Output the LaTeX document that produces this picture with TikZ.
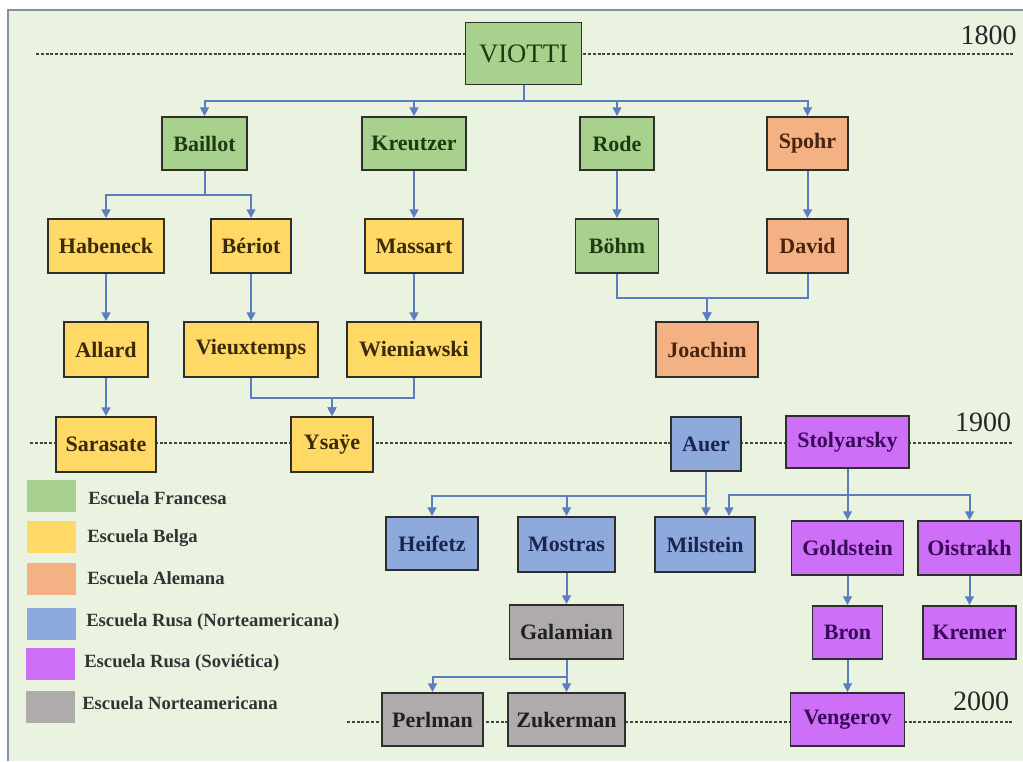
\documentclass[tikz,border=0pt]{standalone}
\usepackage{fontspec}
\setmainfont{Liberation Serif}
\usetikzlibrary{arrows.meta}
\definecolor{bgc}{HTML}{E9F3E0}
\definecolor{framec}{HTML}{8592A0}
\definecolor{cgreen}{HTML}{A9D18E}
\definecolor{cyellow}{HTML}{FFD966}
\definecolor{corange}{HTML}{F4B183}
\definecolor{cblue}{HTML}{8EA9DB}
\definecolor{cpurple}{HTML}{CE6FF7}
\definecolor{cgray}{HTML}{AFABAB}
\definecolor{tgreen}{HTML}{1F3A10}
\definecolor{tyellow}{HTML}{3B2A05}
\definecolor{torange}{HTML}{4A2410}
\definecolor{tblue}{HTML}{1A2550}
\definecolor{tpurple}{HTML}{3A0A5A}
\definecolor{tgray}{HTML}{202020}
\definecolor{connc}{HTML}{5B7EC0}
\definecolor{dashc}{HTML}{454545}
\definecolor{boxline}{HTML}{2E2E2E}
\begin{document}
\begin{tikzpicture}[x=0.75pt,y=-0.75pt,
  box/.style={draw=boxline, line width=1.4pt, inner sep=0pt,
    font=\fontsize{16.5}{18}\selectfont\bfseries},
  sz/.style 2 args={minimum width=#1*0.75pt, minimum height=#2*0.75pt},
  gbox/.style={box, fill=cgreen, text=tgreen},
  ybox/.style={box, fill=cyellow, text=tyellow},
  obox/.style={box, fill=corange, text=torange},
  bbox/.style={box, fill=cblue, text=tblue},
  pbox/.style={box, fill=cpurple, text=tpurple},
  grbox/.style={box, fill=cgray, text=tgray},
  conn/.style={draw=connc, line width=1.5pt, -{Triangle[length=6.5pt,width=6.5pt]}},
  timeline/.style={draw=dashc, line width=1pt, dash pattern=on 2.2pt off 1.4pt},
  year/.style={inner sep=0pt, text=black!85, font=\fontsize{21}{24}\selectfont},
  swatch/.style={inner sep=0pt, minimum width=49*0.75pt, minimum height=32*0.75pt},
  legtext/.style={inner sep=0pt, anchor=west, text=black!80, font=\fontsize{14}{16}\selectfont\bfseries}
]
\useasboundingbox (0,0) rectangle (1023,761);
\fill[white] (0,0) rectangle (1023,761);
\fill[bgc] (8,10) rectangle (1023,761);
\draw[framec, line width=1.3pt] (8,761) -- (8,10) -- (1023,10);

% time lines
\draw[timeline] (36,54) -- (1015,54);
\draw[timeline] (30,443) -- (1012,443);
\draw[timeline] (347,722) -- (1012,722);
\node[year] (y1800) at (988.5,35) {1800};
\node[year] (y1900) at (983,422) {1900};
\node[year] (y2000) at (981,701) {2000};

% boxes
\node[gbox, sz={116}{62}, font=\fontsize{20}{22}\selectfont] (viotti) at (523.5,53.5) {VIOTTI};
\node[gbox, sz={85}{53}] (baillot) at (204.5,143.5) {Baillot};
\node[gbox, sz={104}{53}] (kreutzer) at (414,143.5) {Kreutzer};
\node[gbox, sz={74}{53}] (rode) at (617,143.5) {Rode};
\node[obox, sz={81}{53}] (spohr) at (807.5,143.5) {Spohr};

\node[ybox, sz={116}{54}] (habeneck) at (106,246) {Habeneck};
\node[ybox, sz={80}{54}] (beriot) at (251,246) {Bériot};
\node[ybox, sz={98}{54}] (massart) at (414,246) {Massart};
\node[gbox, sz={83}{54}] (bohm) at (617,246) {Böhm};
\node[obox, sz={81}{54}] (david) at (807.5,246) {David};

\node[ybox, sz={84}{55}] (allard) at (106,349.5) {Allard};
\node[ybox, sz={134}{55}] (vieux) at (251,349.5) {Vieuxtemps};
\node[ybox, sz={134}{55}] (wien) at (414,349.5) {Wieniawski};
\node[obox, sz={102}{55}] (joachim) at (707,349.5) {Joachim};

\node[ybox, sz={100}{55}] (sarasate) at (106,444.5) {Sarasate};
\node[ybox, sz={82}{55}] (ysaye) at (332,444.5) {Ysaÿe};
\node[bbox, sz={70}{54}] (auer) at (706,444) {Auer};
\node[pbox, sz={123}{52}] (stol) at (847.5,442) {Stolyarsky};

\node[bbox, sz={92}{53}] (heifetz) at (432,543.5) {Heifetz};
\node[bbox, sz={97}{55}] (mostras) at (566.5,544.5) {Mostras};
\node[bbox, sz={100}{55}] (milstein) at (705,544.5) {Milstein};
\node[pbox, sz={112}{54}] (gold) at (847.5,548) {Goldstein};
\node[pbox, sz={103}{54}] (oistrakh) at (969.5,548) {Oistrakh};

\node[grbox, sz={114}{54}] (galamian) at (566.5,632) {Galamian};
\node[pbox, sz={70}{53}] (bron) at (847.5,632.5) {Bron};
\node[pbox, sz={93}{53}] (kremer) at (969.5,632.5) {Kremer};

\node[grbox, sz={101}{53}] (perlman) at (432.5,719.5) {Perlman};
\node[grbox, sz={117}{53}] (zukerman) at (566.5,719.5) {Zukerman};
\node[pbox, sz={114}{53}] (vengerov) at (847.5,719.5) {Vengerov};

% connectors
\draw[conn] (viotti.south) -- ++(0,16) -| (baillot.north);
\draw[conn] (viotti.south) -- ++(0,16) -| (kreutzer.north);
\draw[conn] (viotti.south) -- ++(0,16) -| (rode.north);
\draw[conn] (viotti.south) -- ++(0,16) -| (spohr.north);

\draw[conn] (baillot.south) -- ++(0,24) -| (habeneck.north);
\draw[conn] (baillot.south) -- ++(0,24) -| (beriot.north);
\draw[conn] (kreutzer.south) -- (massart.north);
\draw[conn] (rode.south) -- (bohm.north);
\draw[conn] (spohr.south) -- (david.north);

\draw[conn] (habeneck.south) -- (allard.north);
\draw[conn] (beriot.south) -- (vieux.north);
\draw[conn] (massart.south) -- (wien.north);
\draw[conn] (bohm.south) -- ++(0,24) -| (joachim.north);
\draw[conn] (david.south) -- ++(0,24) -| (joachim.north);

\draw[conn] (allard.south) -- (sarasate.north);
\draw[conn] (vieux.south) -- ++(0,20) -| (ysaye.north);
\draw[conn] (wien.south) -- ++(0,20) -| (ysaye.north);

\draw[conn] (auer.south) -- ++(0,24) -| (heifetz.north);
\draw[conn] (auer.south) -- ++(0,24) -| (mostras.north);
\draw[conn] (auer.south) -- (auer.south |- milstein.north);
\draw[conn] (stol.south) -- ++(0,26) -| ([xshift=18pt]milstein.north);
\draw[conn] (stol.south) -- (gold.north);
\draw[conn] (stol.south) -- ++(0,26) -| (oistrakh.north);

\draw[conn] (mostras.south) -- (galamian.north);
\draw[conn] (gold.south) -- (bron.north);
\draw[conn] (oistrakh.south) -- (kremer.north);
\draw[conn] (galamian.south) -- ++(0,17) -| (perlman.north);
\draw[conn] (galamian.south) -- (zukerman.north);
\draw[conn] (bron.south) -- (vengerov.north);

% legend
\node[swatch, fill=cgreen] (sw1) at (51.5,496) {};
\node[swatch, fill=cyellow] (sw2) at (51.5,537) {};
\node[swatch, fill=corange] (sw3) at (51.5,579) {};
\node[swatch, fill=cblue] (sw4) at (51.5,623.5) {};
\node[swatch, fill=cpurple] (sw5) at (50.5,663.5) {};
\node[swatch, fill=cgray] (sw6) at (50.5,706.5) {};
\node[legtext] (lt1) at (88,498) {Escuela Francesa};
\node[legtext] (lt2) at (87,538) {Escuela Belga};
\node[legtext] (lt3) at (87,578) {Escuela Alemana};
\node[legtext] (lt4) at (86,622) {Escuela Rusa (Norteamericana)};
\node[legtext] (lt5) at (84,663) {Escuela Rusa (Soviética)};
\node[legtext] (lt6) at (82,703) {Escuela Norteamericana};
\end{tikzpicture}
\end{document}
